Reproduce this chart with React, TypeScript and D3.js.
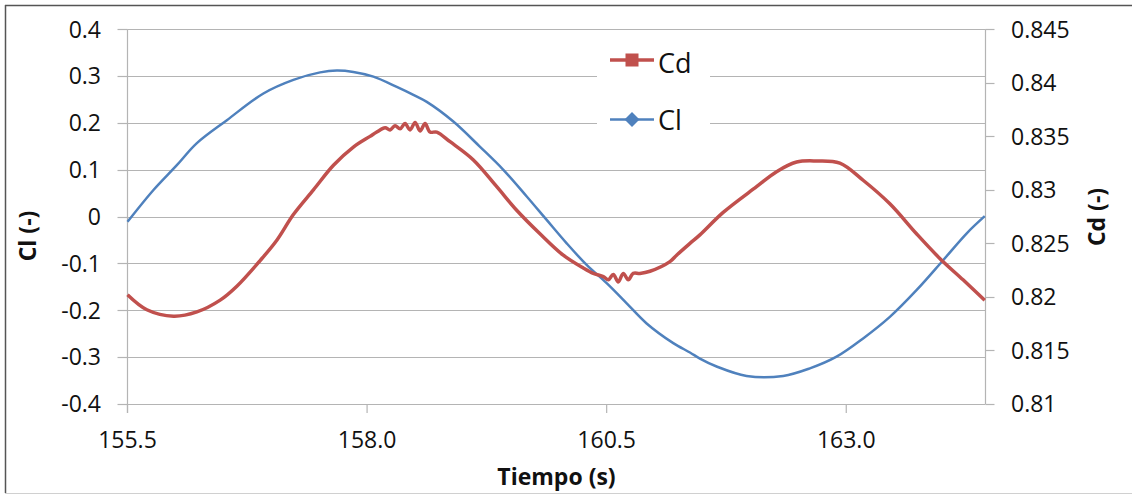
import * as React from "react";
import * as d3 from "d3";

// Cl series (primary axis) - time (s) and value
const clTime = [155.5, 155.771, 156.015, 156.224, 156.537, 156.918, 157.231, 157.51, 157.684, 157.857, 158.066, 158.31, 158.483, 158.623, 158.9, 159.179, 159.422, 159.666, 159.874, 160.083, 160.291, 160.5, 160.709, 160.917, 161.195, 161.369, 161.473, 161.647, 161.96, 162.342, 162.62, 162.899, 163.176, 163.455, 163.733, 164.011, 164.255, 164.445];
const clValue = [-0.011, 0.057, 0.11, 0.157, 0.206, 0.263, 0.292, 0.308, 0.312, 0.309, 0.299, 0.277, 0.26, 0.245, 0.203, 0.149, 0.1, 0.043, -0.007, -0.057, -0.103, -0.142, -0.185, -0.228, -0.27, -0.29, -0.303, -0.32, -0.34, -0.34, -0.324, -0.299, -0.26, -0.214, -0.157, -0.093, -0.036, 0.001];

// Cd series (secondary axis)
const cdTime = [155.5, 155.702, 155.98, 156.224, 156.467, 156.641, 156.884, 157.058, 157.231, 157.44, 157.649, 157.857, 158.031, 158.101, 158.188, 158.24, 158.292, 158.344, 158.396, 158.448, 158.501, 158.553, 158.605, 158.657, 158.727, 158.866, 159.109, 159.353, 159.561, 159.804, 160.047, 160.256, 160.36, 160.465, 160.517, 160.569, 160.621, 160.673, 160.725, 160.777, 160.847, 160.952, 161.16, 161.23, 161.369, 161.473, 161.716, 162.064, 162.273, 162.482, 162.69, 162.933, 163.176, 163.455, 163.733, 163.976, 164.219, 164.445];
const cdValue = [0.8202, 0.8188, 0.8182, 0.8186, 0.8197, 0.821, 0.8234, 0.8253, 0.8277, 0.83, 0.8323, 0.834, 0.835, 0.8354, 0.8358, 0.8356, 0.836, 0.8357, 0.8362, 0.8356, 0.8363, 0.8355, 0.8362, 0.8354, 0.8354, 0.8345, 0.8328, 0.8303, 0.8281, 0.8259, 0.8239, 0.8227, 0.8222, 0.8219, 0.8216, 0.8221, 0.8214, 0.8222, 0.8216, 0.8222, 0.8222, 0.8224, 0.8233, 0.8239, 0.825, 0.8258, 0.8279, 0.8303, 0.8317, 0.8326, 0.8327, 0.8325, 0.8309, 0.8287, 0.8259, 0.8236, 0.8216, 0.8197];

const xTicks = [155.5, 158.0, 160.5, 163.0];
const clTicks = [-0.4, -0.3, -0.2, -0.1, 0, 0.1, 0.2, 0.3, 0.4];
const cdTicks = [0.81, 0.815, 0.82, 0.825, 0.83, 0.835, 0.84, 0.845];

const RED = "#C0504D";
const BLUE = "#4F81BD";
const FONT = "'Open Sans', 'Liberation Sans', sans-serif";

const App: React.FC = () => {
    const width = 1132;
    const height = 494;
    const left = 127.5, right = 985.5, top = 29.3, bottom = 404;

    const x = d3.scaleLinear().domain([155.5, 164.453]).range([left, right]);
    const yCl = d3.scaleLinear().domain([-0.4, 0.4]).range([bottom, top]);
    const yCd = d3.scaleLinear().domain([0.81, 0.845]).range([bottom, top]);

    const clData = clTime.map((t, i) => [t, clValue[i]] as [number, number]);
    const cdData = cdTime.map((t, i) => [t, cdValue[i]] as [number, number]);

    const clLine = d3.line<[number, number]>().x(d => x(d[0])).y(d => yCl(d[1])).curve(d3.curveCatmullRom.alpha(0.5));
    const cdLine = d3.line<[number, number]>().x(d => x(d[0])).y(d => yCd(d[1])).curve(d3.curveCatmullRom.alpha(0.5));

    const fmtCd = (v: number) => String(+v.toFixed(3));
    const fmtCl = (v: number) => String(+v.toFixed(1));

    return (
        <svg width={width} height={height} style={{ position: "absolute", left: 0, top: 0, background: "#fff" }} fontFamily={FONT}>
            {/* frame */}
            <line x1={5} y1={5.5} x2={width} y2={5.5} stroke="#555" strokeWidth={1.5} />
            <line x1={5.5} y1={5} x2={5.5} y2={493} stroke="#555" strokeWidth={1.5} />
            <line x1={5} y1={493.5} x2={width} y2={493.5} stroke="#d0d0d0" strokeWidth={1} />

            {/* gridlines */}
            {clTicks.map(v => (
                <line key={"g" + v} x1={left} x2={right} y1={Math.round(yCl(v)) + 0.5} y2={Math.round(yCl(v)) + 0.5} stroke="#b4b4b4" strokeWidth={1.2} />
            ))}

            {/* axes */}
            <line x1={left} x2={left} y1={top} y2={bottom + 9} stroke="#b4b4b4" strokeWidth={1.2} />
            <line x1={right} x2={right} y1={top} y2={bottom} stroke="#b4b4b4" strokeWidth={1.2} />
            {clTicks.map(v => (
                <line key={"lt" + v} x1={left - 10} x2={left} y1={Math.round(yCl(v)) + 0.5} y2={Math.round(yCl(v)) + 0.5} stroke="#b4b4b4" strokeWidth={1.2} />
            ))}
            {cdTicks.map(v => (
                <line key={"rt" + v} x1={right} x2={right + 9} y1={Math.round(yCd(v)) + 0.5} y2={Math.round(yCd(v)) + 0.5} stroke="#b4b4b4" strokeWidth={1.2} />
            ))}
            {xTicks.map(v => (
                <line key={"xt" + v} x1={x(v)} x2={x(v)} y1={bottom} y2={bottom + 9} stroke="#b4b4b4" strokeWidth={1.2} />
            ))}

            {/* tick labels */}
            {clTicks.map(v => (
                <text key={"ll" + v} x={101} y={yCl(v)} dy="0.36em" textAnchor="end" fontSize={23} fill="#111">{fmtCl(v)}</text>
            ))}
            {cdTicks.map(v => (
                <text key={"rl" + v} x={1011} y={yCd(v)} dy="0.36em" textAnchor="start" fontSize={23} fill="#111">{fmtCd(v)}</text>
            ))}
            {xTicks.map(v => (
                <text key={"xl" + v} x={x(v)} y={448} textAnchor="middle" fontSize={23} fill="#111">{v.toFixed(1)}</text>
            ))}

            {/* axis titles */}
            <text x={556.5} y={485} textAnchor="middle" fontSize={23} fontWeight="bold" fill="#111">Tiempo (s)</text>
            <text transform="translate(36,236) rotate(-90)" textAnchor="middle" fontSize={23} fontWeight="bold" fill="#111">Cl (-)</text>
            <text transform="translate(1105,217) rotate(-90)" textAnchor="middle" fontSize={23} fontWeight="bold" fill="#111">Cd (-)</text>

            {/* series */}
            <path d={clLine(clData) || ""} fill="none" stroke={BLUE} strokeWidth={2.5} strokeLinejoin="round" />
            <path d={cdLine(cdData) || ""} fill="none" stroke={RED} strokeWidth={3.5} strokeLinejoin="round" />

            {/* legend */}
            <rect x={597} y={36} width={113} height={108} fill="#fff" />
            <line x1={610} x2={654} y1={60} y2={60} stroke={RED} strokeWidth={3.5} />
            <rect x={625.5} y={53.5} width={13} height={13} fill={RED} />
            <text x={658} y={63} dy="0.36em" fontSize={27} fill="#111">Cd</text>
            <line x1={610} x2={654} y1={119.5} y2={119.5} stroke={BLUE} strokeWidth={2.5} />
            <path d="M632,112 L639.5,119.5 L632,127 L624.5,119.5 Z" fill={BLUE} />
            <text x={658} y={120} dy="0.36em" fontSize={27} fill="#111">Cl</text>
        </svg>
    );
};

export default App;
